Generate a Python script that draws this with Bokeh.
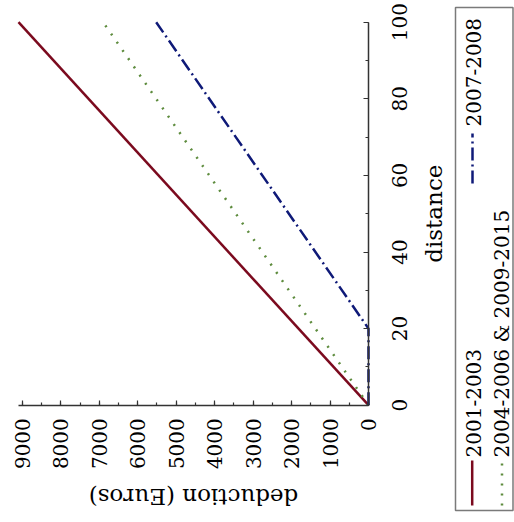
import math
from bokeh.plotting import figure
from bokeh.models import Range1d, LinearAxis, SingleIntervalTicker
from bokeh.embed import file_html
from bokeh.resources import INLINE
from bokeh.core.properties import value

# ---- data (distance in km, deduction in Euros) ----
distance = [0, 100]
ded_2001_2003 = [0, 9100]
ded_2004_2006 = [0, 6900]
distance_2007_2008 = [0, 20, 100]
ded_2007_2008 = [0, 0, 5520]
series_names = ["2001-2003", "2004-2006 & 2009-2015", "2007-2008"]
distance_ticks = [0, 20, 40, 60, 80, 100]
distance_tick_labels = ["0", "20", "40", "60", "80", "100"]
deduction_tick_step = 1000
distance_tick_step = 20
deduction_max = 9100
distance_max = 100

FONT = "DejaVu Serif"
RED = "#7b0a1e"
GREEN = "#5e8c3e"
BLUE = "#0f1a78"
AXIS_COLOR = "#333333"

# ---- layout (pixels): the whole chart is turned a quarter turn counter-clockwise ----
W, H = 514, 522
FRAME_L, FRAME_R = 18.0, 368.0     # deduction max .. 0
FRAME_T, FRAME_B = 21.7, 404.7     # distance max .. 0


def px_to_x(px):
    return deduction_max * (FRAME_R - px) / (FRAME_R - FRAME_L)


def py_to_y(py):
    return distance_max * (FRAME_B - py) / (FRAME_B - FRAME_T)


p = figure(width=W, height=H, output_backend="svg", toolbar_location=None,
           x_range=Range1d(px_to_x(0), px_to_x(W)), y_range=Range1d(py_to_y(H), py_to_y(0)),
           x_axis_location=None, y_axis_location=None,
           min_border=0, min_border_left=0, min_border_right=0,
           min_border_top=0, min_border_bottom=0)
p.outline_line_color = None
p.xgrid.visible = False
p.ygrid.visible = False
p.background_fill_color = "white"
p.border_fill_color = "white"

xa = LinearAxis(ticker=SingleIntervalTicker(interval=deduction_tick_step, num_minor_ticks=2),
                fixed_location=0, bounds=(0, deduction_max))
ya = LinearAxis(ticker=SingleIntervalTicker(interval=distance_tick_step, num_minor_ticks=2),
                fixed_location=0, bounds=(0, distance_max))
p.add_layout(xa, "below")
p.add_layout(ya, "right")

for ax in (xa, ya):
    ax.major_tick_in = 5
    ax.major_tick_out = 0
    ax.minor_tick_in = 3
    ax.minor_tick_out = 0
    ax.axis_line_color = AXIS_COLOR
    ax.axis_line_width = 1.5
    ax.major_tick_line_color = AXIS_COLOR
    ax.major_tick_line_width = 1.2
    ax.minor_tick_line_color = AXIS_COLOR
    ax.minor_tick_line_width = 1.2
    ax.major_label_text_font = FONT
    ax.major_label_text_font_size = "20px"
    ax.major_label_text_color = "black"

xa.major_label_orientation = math.pi / 2
xa.major_label_standoff = 13
# distance tick labels are centred on their ticks as rotated text below
ya.major_label_overrides = {t: "" for t in distance_ticks}

# data lines
p.line(ded_2001_2003, distance, line_color=RED, line_width=2.5)
p.line(ded_2004_2006, distance, line_color=GREEN, line_width=2.5, line_dash="2 8")
p.line(ded_2007_2008, distance_2007_2008, line_color=BLUE, line_width=2.5, line_dash="13 4 2 4")

# distance tick labels (rotated, centred on the ticks)
p.text(x=[px_to_x(398.5)] * len(distance_ticks), y=distance_ticks, text=distance_tick_labels,
       angle=math.pi / 2, text_font=value(FONT), text_font_size="20px", text_color="black",
       text_align="center", text_baseline="middle")

# axis titles
p.text(x=[px_to_x((FRAME_L + FRAME_R) / 2)], y=[py_to_y(496)], text=["deduction (Euros)"],
       angle=math.pi, text_font=value(FONT), text_font_size="23px", text_color="black",
       text_align="center", text_baseline="middle")
p.text(x=[px_to_x(433)], y=[py_to_y((FRAME_T + FRAME_B) / 2)], text=["distance"],
       angle=math.pi / 2, text_font=value(FONT), text_font_size="23px", text_color="black",
       text_align="center", text_baseline="middle")

# legend box
p.quad(left=[px_to_x(455)], right=[px_to_x(512.5)], top=[py_to_y(7)], bottom=[py_to_y(510)],
       fill_color=None, line_color="#7a7a7a", line_width=1.5)

legend_colors = [RED, GREEN, BLUE]
legend_dashes = ["solid", "2 8", "13 4 2 4"]
legend_sample_px = [471.7, 501.5, 472.0]
legend_sample_py = [(460, 505), (462, 505), (133, 183)]
legend_text_px = [472.5, 501.5, 472.5]
legend_text_py = [457, 457, 126]

for name, c, d, sx, (sy0, sy1), tx, ty in zip(series_names, legend_colors, legend_dashes,
                                                legend_sample_px, legend_sample_py,
                                                legend_text_px, legend_text_py):
    p.line([px_to_x(sx), px_to_x(sx)], [py_to_y(sy1), py_to_y(sy0)],
           line_color=c, line_width=2.5, line_dash=d)
    p.text(x=[px_to_x(tx)], y=[py_to_y(ty)], text=[name], angle=math.pi / 2,
           text_font=value(FONT), text_font_size="20px", text_color="black",
           text_align="left", text_baseline="middle")

open("out.html", "w").write(file_html(p, INLINE))
